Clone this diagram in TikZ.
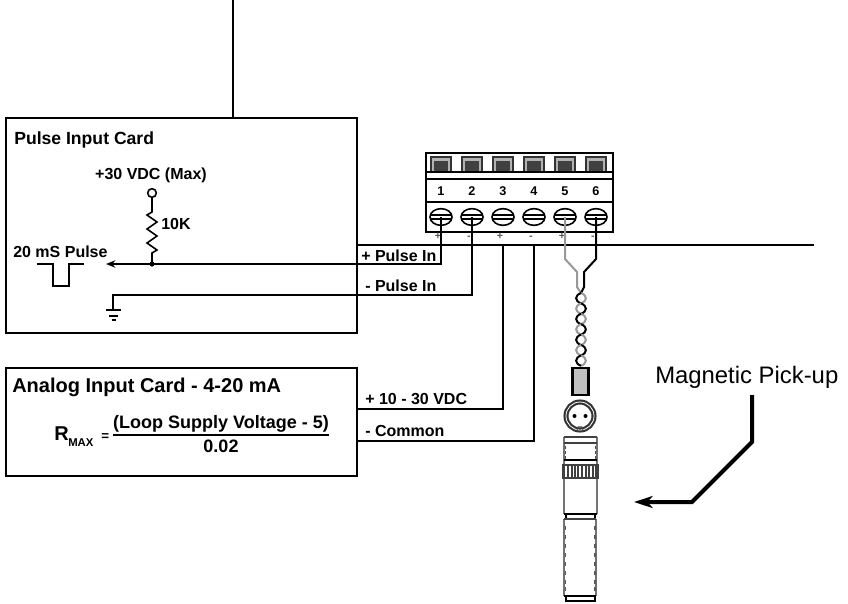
\documentclass[tikz,border=0pt]{standalone}
\usepackage{fontspec}
\setmainfont{Liberation Sans}
\usetikzlibrary{arrows.meta,shapes.geometric}
\newcommand{\fsz}[1]{\fontsize{#1}{#1}\selectfont}
\tikzset{
  wire/.style={line width=1.5pt,black,line join=miter},
  gwire/.style={line width=1.5pt,black!40,line join=miter},
  card/.style={line width=1.5pt,draw=black},
  lbl/.style={inner sep=0pt,anchor=base west,font=\fsz{12}\bfseries},
  ttl/.style={inner sep=0pt,anchor=base west,font=\fsz{13.2}\bfseries},
  ttlb/.style={inner sep=0pt,anchor=base west,font=\fsz{15}\bfseries},
  frm/.style={inner sep=0pt,anchor=base,font=\fsz{13.5}\bfseries},
  num/.style={inner sep=0pt,anchor=base,font=\fsz{9.5}\bfseries},
  pol/.style={inner sep=0pt,anchor=base,font=\fsz{8}\bfseries,text=black!65},
  part/.style={line width=0.8pt,draw=black!75},
  partd/.style={line width=1.1pt,draw=black!55},
}
\begin{document}
\begin{tikzpicture}[x=0.75pt,y=-0.75pt]
\useasboundingbox (0,0) rectangle (848,603);
% cards
\node[card,minimum width=263.25pt,minimum height=161.25pt,inner sep=0pt,anchor=north west] (pulse) at (5,117) {};
\node[card,minimum width=263.25pt,minimum height=81pt,inner sep=0pt,anchor=north west] (analog) at (5,367) {};
\coordinate (top) at (233,0);
\draw[wire] (top) -- (top |- pulse.north);
\coordinate (railend) at (814,245);
\draw[wire] (pulse.east |- railend) -- (railend);
% terminal block
\node[line width=1.5pt,draw=black,minimum width=140.25pt,minimum height=59.25pt,inner sep=0pt,anchor=north west] (block) at (425,152) {};
\draw[line width=2.2pt] (425,172) -- (612,172);
\draw[line width=1.5pt] (425,179) -- (612,179);
\draw[line width=1.5pt] (425,202) -- (612,202);
\foreach \i/\p in {1/+,2/-,3/+,4/-,5/+,6/-}{
  \pgfmathsetmacro{\cx}{410+31*\i}
  \fill[black!30] (\cx-10,157) rectangle (\cx+10,171);
  \draw[line width=0.9pt,black!80] (\cx-10,171) -- (\cx-10,157) -- (\cx+10,157) -- (\cx+10,171);
  \fill[black!75] (\cx-7,160.5) rectangle (\cx+7,171);
  \node[num] (n\i) at (\cx,195) {\i};
  \node[line width=1.2pt,draw=black,fill=white,ellipse,minimum width=16.5pt,minimum height=12.5pt,inner sep=0pt] (s\i) at (\cx,217) {};
  \draw[line width=1pt] (\cx-10.5,215) -- (\cx+10.5,215) (\cx-10.5,219) -- (\cx+10.5,219);
  \node[pol] (p\i) at (\cx-3,239) {\p};
}
% wires from the terminals
\coordinate (j) at (152,264);
\coordinate (arr) at (106,264);
\draw[wire] (s1.center) -- (s1.center |- j) -- (j);
\draw[wire,-{Stealth[length=7pt,width=5.5pt]}] (j) -- (arr);
\coordinate (gnd) at (113,295);
\draw[wire] (s2.center) -- (s2.center |- gnd) -- (gnd) -- ++(0,15) coordinate (gb);
\draw[line width=1.2pt] (106,310) -- (121,310) (109,316) -- (118,316) (111.5,320) -- (115.5,320);
\coordinate (a1) at (356,409);
\coordinate (a2) at (356,441);
\draw[wire] (n3.center |- railend) -- (n3.center |- a1) -- (a1);
\draw[wire] (n4.center |- railend) -- (n4.center |- a2) -- (a2);
\coordinate (tw) at (581,293);
\draw[gwire] (s5.center) -- (565,259) -- (577,272) -- (577,287) -- (tw);
\draw[wire] (s6.center) -- (596,259) -- (584,272) -- (584,287) -- (tw);
% twist
\foreach \i in {0,...,6}{
  \pgfmathsetmacro{\ya}{293+10.4*\i}
  \pgfmathsetmacro{\yb}{\ya+10.4}
  \pgfmathsetmacro{\ca}{int(mod(\i,2))}
  \ifnum\ca=0\relax
    \draw[gwire] (581,\ya) .. controls (587.5,\ya+2.5) and (587.5,\yb-2.5) .. (581,\yb);
    \draw[wire] (581,\ya) .. controls (574.5,\ya+2.5) and (574.5,\yb-2.5) .. (581,\yb);
  \else
    \draw[wire] (581,\ya) .. controls (587.5,\ya+2.5) and (587.5,\yb-2.5) .. (581,\yb);
    \draw[gwire] (581,\ya) .. controls (574.5,\ya+2.5) and (574.5,\yb-2.5) .. (581,\yb);
  \fi
}
% connector plug
\node[line width=1.6pt,draw=black,fill=black!25,minimum width=12pt,minimum height=20pt,inner sep=0pt,anchor=north] (plug) at (580.5,367) {};
\node[circle,line width=1.6pt,draw=black!80,double=white,double distance=0.6pt,fill=white,minimum size=21pt,inner sep=0pt] (sock) at (580,416) {};
\fill (574.5,416) circle (2);
\fill (585.5,416) circle (2);
\draw[line width=0.8pt,black!70] (577,430) -- (578,427) -- (582,427) -- (583,430);
% sensor
\draw[partd] (564,437) -- (564,465) (597,437) -- (597,465) (564,478) -- (564,514) (597,478) -- (597,514);
\draw[part] (564,437) -- (597,437) (564,443) -- (597,443);
\draw[line width=1pt] (564,460) -- (597,460);
\foreach \y in {446,451,456}{\draw[line width=1pt,black!70] (565.5,\y) -- ++(0,2.5) (595.5,\y) -- ++(0,2.5);}
\draw[part] (563,465) rectangle (598,478);
\foreach \x in {564,568,572,575,578,582,586,589,593,596}{\draw[line width=0.9pt,black!75] (\x,465) -- (\x,478);}
\draw[line width=1pt] (564,514) -- (597,514);
\draw[line width=0.9pt] (566,514) -- (566,519) (595,514) -- (595,519);
\draw[partd] (564,519) -- (564,596) (596,519) -- (596,596);
\draw[part] (564,519) -- (596,519);
\foreach \y in {526,535,544,553,562,571,580,587}{\draw[line width=1.1pt,black!65] (565.5,\y) -- ++(0,4) (595,\y) -- ++(0,4);}
\draw[line width=0.9pt] (564,596) -- (596,596) (566,596) -- (566,601) -- (595,601) -- (595,596);
% pick-up leader
\coordinate (ld) at (752,395);
\coordinate (lt) at (634,502);
\draw[line width=3pt,line join=miter,-{Stealth[length=14pt,width=9pt,inset=4pt]}] (ld) -- (752,442) -- (692,502) -- (lt);
\node[inner sep=0pt,anchor=base west,font=\fsz{17.9}] (mag) at (655,383) {Magnetic Pick-up};
% pulse card interior
\node[ttl] (pt) at (14,144) {Pulse Input Card};
\node[lbl,anchor=base] (vdc) at (151,179) {+30 VDC (Max)};
\node[circle,line width=1.2pt,draw=black,fill=white,minimum size=6.5pt,inner sep=0pt] (vt) at (152,193) {};
\draw[line width=1.2pt,line join=miter] (vt) -- (152,212) -- (147,215) -- (157,222) -- (147,229) -- (157,236) -- (147,243) -- (157,250) -- (152,253) -- (j);
\fill (j) circle (2.6);
\node[lbl] (r) at (161,229) {10K};
\node[lbl] (pl) at (13,257) {20 mS Pulse};
\draw[line width=1.2pt] (37,264) -- (53,264) -- (53,286) -- (69,286) -- (69,264) -- (84,264);
\node[lbl] (pp) at (361,261) {+ Pulse In};
\node[lbl] (pm) at (365,291) {- Pulse In};
\node[lbl] (av) at (365,404) {+ 10 - 30 VDC};
\node[lbl] (ac) at (365,436) {- Common};
% analog card interior
\node[ttlb] (at) at (12,392) {Analog Input Card - 4-20 mA};
\node[inner sep=0pt,anchor=base west,font=\fsz{15}\bfseries] (rr) at (54,440) {R};
\node[inner sep=0pt,anchor=base west,font=\fsz{8.5}\bfseries] (rm) at (68,446) {MAX};
\node[inner sep=0pt,anchor=base west,font=\fsz{10}\bfseries] (re) at (101,440) {=};
\node[frm] (fn) at (221,428) {(Loop Supply Voltage - 5)};
\node[frm] (fd) at (221,452) {0.02};
\draw[line width=1.5pt] (113,435) -- (329,435);
\end{tikzpicture}
\end{document}
